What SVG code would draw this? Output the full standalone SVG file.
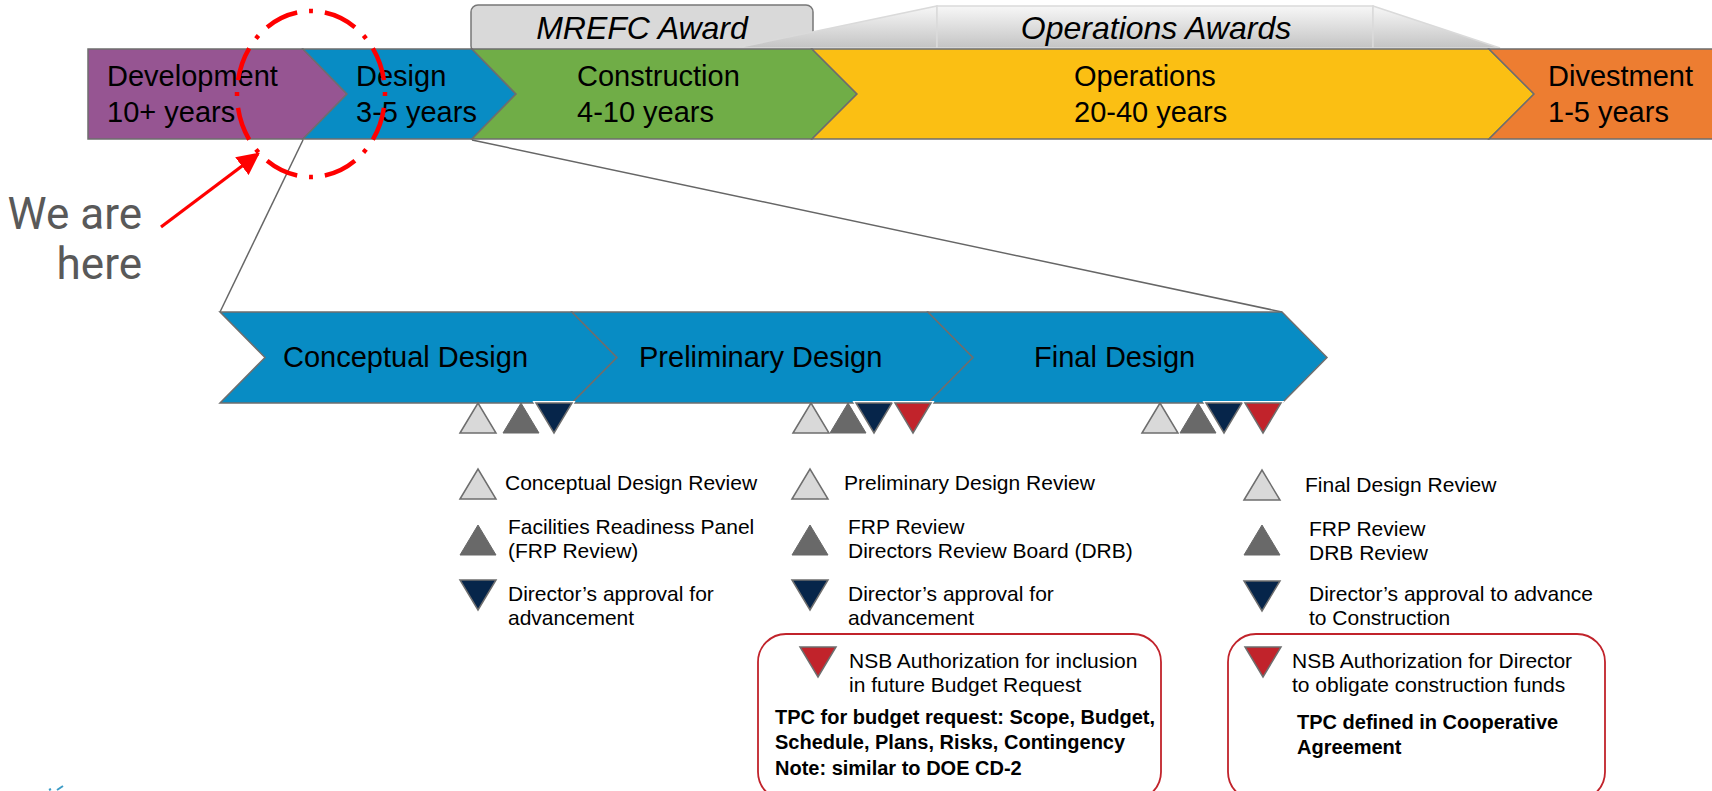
<svg xmlns="http://www.w3.org/2000/svg" width="1712" height="791" viewBox="0 0 1712 791">
  <defs>
    <style>
      .seg { stroke: #6e6e6e; stroke-width: 1.5; stroke-linejoin: miter; }
      .bar-text { font-family: "Liberation Sans", Arial, sans-serif; font-size: 29px; fill: #000; }
      .award-text { font-family: "Liberation Sans", Arial, sans-serif; font-size: 32px; font-style: italic; fill: #000; }
      .phase-text { font-family: "Liberation Sans", Arial, sans-serif; font-size: 29px; fill: #000; }
      .legend { font-family: "Liberation Sans", Arial, sans-serif; font-size: 21px; fill: #000; }
      .legend-bold { font-family: "Liberation Sans", Arial, sans-serif; font-size: 20px; font-weight: bold; fill: #000; }
      .tri-light { fill: #d9d9d9; stroke: #6e6e6e; stroke-width: 1.5; }
      .tri-dark { fill: #696969; stroke: #696969; stroke-width: 1; }
      .tri-navy { fill: #06254a; stroke: #6e6e6e; stroke-width: 1.5; }
      .tri-red { fill: #c1232b; stroke: #6e6e6e; stroke-width: 1.5; }
      .halo { fill: none; stroke: #fff; stroke-width: 4; }
      .link { fill: none; stroke: #666; stroke-width: 1.5; }
      .callout { fill: #fff; stroke: #c1232b; stroke-width: 1.8; }
      .here-text { font-family: Roboto, "Open Sans", sans-serif; font-size: 44px; fill: #595959; }
    </style>
    <linearGradient id="awardShade" x1="0" y1="0" x2="0" y2="1">
      <stop offset="0" stop-color="#f7f7f7"/>
      <stop offset="1" stop-color="#c4c4c4"/>
    </linearGradient>
    <marker id="redHead" viewBox="0 0 10 10" refX="9" refY="5" markerWidth="7" markerHeight="7" orient="auto" markerUnits="strokeWidth">
      <path d="M0,0 L10,5 L0,10 z" fill="#ff0000"/>
    </marker>
    <!-- milestone glyphs, 36 wide x 30 tall, anchored at top-left -->
    <polygon id="up" points="0,30 18,0 36,30"/>
    <polygon id="down" points="0,0 36,0 18,30"/>
  </defs>

  <rect width="1712" height="791" fill="#fff"/>

  <!-- award banners above the lifecycle bar -->
  <g id="mrefc-award">
    <rect x="471" y="5" width="342" height="48" rx="7" fill="#d9d9d9" stroke="#777" stroke-width="1.5"/>
    <text class="award-text" x="642" y="39" text-anchor="middle">MREFC Award</text>
  </g>
  <g id="operations-awards">
    <polygon points="736,48 937,6 937,48" fill="url(#awardShade)" stroke="#dadada" stroke-width="1.5"/>
    <rect x="937" y="6" width="436" height="42" fill="url(#awardShade)" stroke="#dadada" stroke-width="1.5"/>
    <polygon points="1373,6 1500,48 1373,48" fill="url(#awardShade)" stroke="#dadada" stroke-width="1.5"/>
    <text class="award-text" x="1156" y="39" text-anchor="middle">Operations Awards</text>
  </g>

  <!-- lifecycle bar -->
  <g id="development">
    <polygon class="seg" points="88,49 303,49 347,94 303,139 88,139" fill="#965592"/>
    <text class="bar-text" x="107" y="86">Development</text>
    <text class="bar-text" x="107" y="122">10+ years</text>
  </g>
  <g id="design">
    <polygon class="seg" points="303,49 472,49 516,94 472,139 303,139 347,94" fill="#088cc4"/>
    <text class="bar-text" x="356" y="86">Design</text>
    <text class="bar-text" x="356" y="122">3-5 years</text>
  </g>
  <g id="construction">
    <polygon class="seg" points="472,49 812,49 857,94 812,139 472,139 516,94" fill="#70ad47"/>
    <text class="bar-text" x="577" y="86">Construction</text>
    <text class="bar-text" x="577" y="122">4-10 years</text>
  </g>
  <g id="operations">
    <polygon class="seg" points="812,49 1489,49 1534,94 1489,139 812,139 857,94" fill="#fbbf13"/>
    <text class="bar-text" x="1074" y="86">Operations</text>
    <text class="bar-text" x="1074" y="122">20-40 years</text>
  </g>
  <g id="divestment">
    <polygon class="seg" points="1489,49 1716,49 1716,139 1489,139 1534,94" fill="#ed7d31"/>
    <text class="bar-text" x="1548" y="86">Divestment</text>
    <text class="bar-text" x="1548" y="122">1-5 years</text>
  </g>

  <!-- zoom-out lines from the Design segment to the design phases -->
  <g id="connectors">
    <line class="link" x1="303" y1="140" x2="220" y2="312"/>
    <line class="link" x1="472" y1="140" x2="1282" y2="312"/>
  </g>

  <!-- "you are here" marker -->
  <g id="here-marker">
    <ellipse cx="311" cy="94" rx="74" ry="83" pathLength="496" fill="none" stroke="#ff0000" stroke-width="4.5" stroke-dasharray="34 12 4 12" stroke-dashoffset="48"/>
    <line x1="161" y1="227" x2="258" y2="154" stroke="#ff0000" stroke-width="3.2" marker-end="url(#redHead)"/>
    <text class="here-text" x="142" y="229" text-anchor="end">We are</text>
    <text class="here-text" x="142" y="279" text-anchor="end">here</text>
  </g>

  <!-- design phases -->
  <g id="conceptual-design">
    <polygon class="seg" points="220,312 572,312 617,357.5 572,403 220,403 265,357.5" fill="#088cc4"/>
    <text class="phase-text" x="283" y="367">Conceptual Design</text>
  </g>
  <g id="preliminary-design">
    <polygon class="seg" points="572,312 928,312 973,357.5 928,403 572,403 617,357.5" fill="#088cc4"/>
    <text class="phase-text" x="639" y="367">Preliminary Design</text>
  </g>
  <g id="final-design">
    <polygon class="seg" points="928,312 1282,312 1327,357.5 1282,403 928,403 973,357.5" fill="#088cc4"/>
    <text class="phase-text" x="1034" y="367">Final Design</text>
  </g>

  <!-- milestone markers under each phase -->
  <g id="milestones-conceptual">
    <use href="#up" class="tri-light" x="460" y="403"/>
    <use href="#up" class="tri-dark" x="503" y="403"/>
    <use href="#down" class="halo" x="536" y="403"/>
    <use href="#down" class="tri-navy" x="536" y="403"/>
  </g>
  <g id="milestones-preliminary">
    <use href="#up" class="tri-light" x="793" y="403"/>
    <use href="#up" class="tri-dark" x="830" y="403"/>
    <use href="#down" class="halo" x="856" y="403"/>
    <use href="#down" class="tri-navy" x="856" y="403"/>
    <use href="#down" class="halo" x="895" y="403"/>
    <use href="#down" class="tri-red" x="895" y="403"/>
  </g>
  <g id="milestones-final">
    <use href="#up" class="tri-light" x="1142" y="403"/>
    <use href="#up" class="tri-dark" x="1180" y="403"/>
    <use href="#down" class="halo" x="1206" y="403"/>
    <use href="#down" class="tri-navy" x="1206" y="403"/>
    <use href="#down" class="halo" x="1245" y="403"/>
    <use href="#down" class="tri-red" x="1245" y="403"/>
  </g>

  <!-- legend: conceptual design -->
  <g id="legend-conceptual">
    <use href="#up" class="tri-light" x="460" y="469"/>
    <text class="legend" x="505" y="490">Conceptual Design Review</text>
    <use href="#up" class="tri-dark" x="460" y="525"/>
    <text class="legend" x="508" y="534">Facilities Readiness Panel</text>
    <text class="legend" x="508" y="558">(FRP Review)</text>
    <use href="#down" class="tri-navy" x="460" y="580"/>
    <text class="legend" x="508" y="601">Director’s approval for</text>
    <text class="legend" x="508" y="625">advancement</text>
  </g>

  <!-- legend: preliminary design -->
  <g id="legend-preliminary">
    <use href="#up" class="tri-light" x="792" y="469"/>
    <text class="legend" x="844" y="490">Preliminary Design Review</text>
    <use href="#up" class="tri-dark" x="792" y="525"/>
    <text class="legend" x="848" y="534">FRP Review</text>
    <text class="legend" x="848" y="558">Directors Review Board (DRB)</text>
    <use href="#down" class="tri-navy" x="792" y="580"/>
    <text class="legend" x="848" y="601">Director’s approval for</text>
    <text class="legend" x="848" y="625">advancement</text>
  </g>

  <!-- legend: final design -->
  <g id="legend-final">
    <use href="#up" class="tri-light" x="1244" y="470"/>
    <text class="legend" x="1305" y="492">Final Design Review</text>
    <use href="#up" class="tri-dark" x="1244" y="525"/>
    <text class="legend" x="1309" y="536">FRP Review</text>
    <text class="legend" x="1309" y="560">DRB Review</text>
    <use href="#down" class="tri-navy" x="1244" y="581"/>
    <text class="legend" x="1309" y="601">Director’s approval to advance</text>
    <text class="legend" x="1309" y="625">to Construction</text>
  </g>

  <!-- NSB authorization callouts -->
  <g id="nsb-budget-request">
    <rect class="callout" x="758" y="634" width="403" height="166" rx="28"/>
    <use href="#down" class="tri-red" x="800" y="647"/>
    <text class="legend" x="849" y="668">NSB Authorization for inclusion</text>
    <text class="legend" x="849" y="692">in future Budget Request</text>
    <text class="legend-bold" x="775" y="724">TPC for budget request: Scope, Budget,</text>
    <text class="legend-bold" x="775" y="749">Schedule, Plans, Risks, Contingency</text>
    <text class="legend-bold" x="775" y="775">Note: similar to DOE CD-2</text>
  </g>
  <g id="nsb-construction-funds">
    <rect class="callout" x="1228" y="634" width="377" height="166" rx="28"/>
    <use href="#down" class="tri-red" x="1245" y="647"/>
    <text class="legend" x="1292" y="668">NSB Authorization for Director</text>
    <text class="legend" x="1292" y="692">to obligate construction funds</text>
    <text class="legend-bold" x="1297" y="729">TPC defined in Cooperative</text>
    <text class="legend-bold" x="1297" y="754">Agreement</text>
  </g>

  <!-- corner logo fragment at the page edge -->
  <path d="M49,790 L51,789 M57,790 L63,786" stroke="#3d9cc6" stroke-width="2" fill="none"/>
</svg>
